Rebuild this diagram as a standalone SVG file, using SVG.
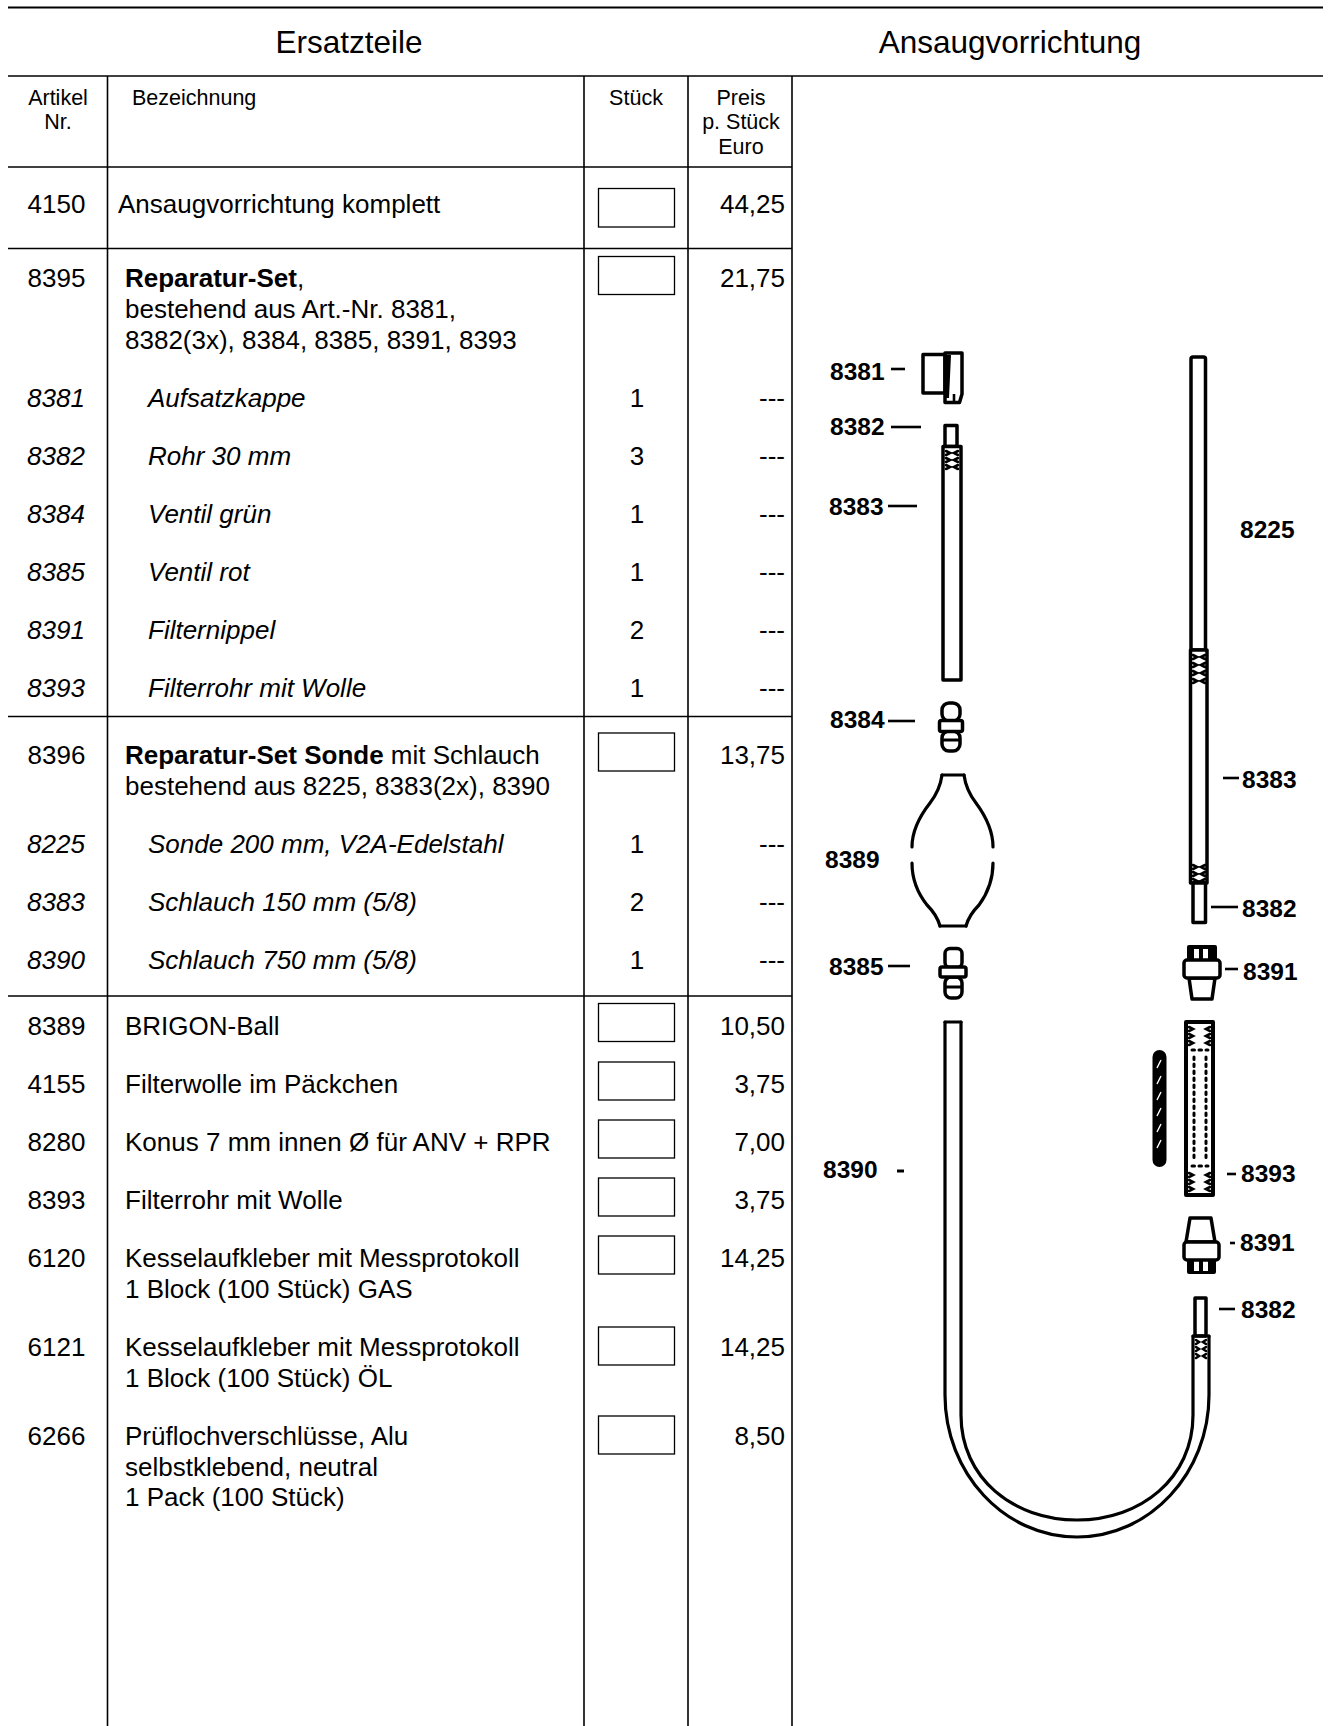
<svg xmlns="http://www.w3.org/2000/svg" width="1330" height="1726" viewBox="0 0 1330 1726">
<style>
.t{font-family:"Liberation Sans",Arial,sans-serif;font-size:26px;fill:#000}
.h{font-family:"Liberation Sans",Arial,sans-serif;font-size:21.5px;fill:#000}
.ti{font-family:"Liberation Sans",Arial,sans-serif;font-size:31.5px;fill:#000}
.i{font-style:italic}
.b{font-weight:bold}
.m{text-anchor:middle}
.e{text-anchor:end}
.ln{stroke:#000;stroke-width:1.6;fill:none}
.cb{fill:#fff;stroke:#000;stroke-width:1.3}
.p{fill:#fff;stroke:#000;stroke-width:3.5;stroke-linejoin:round}
.s{fill:none;stroke:#000;stroke-width:3.2;stroke-linecap:round}
.k{fill:#000}
.lb{font-family:"Liberation Sans",Arial,sans-serif;font-size:24.5px;font-weight:bold;fill:#000}
.ld{stroke:#000;stroke-width:2.6}
.dot{fill:none;stroke:#000;stroke-width:3;stroke-dasharray:2.5 4.5;stroke-linecap:round}
</style>
<rect width="1330" height="1726" fill="#fff"/>

<g id="table-lines">
<line class="ln" x1="8" y1="7.5" x2="1323" y2="7.5" style="stroke-width:2"/>
<line class="ln" x1="8" y1="76" x2="1323" y2="76"/>
<line class="ln" x1="107.5" y1="76" x2="107.5" y2="1726"/>
<line class="ln" x1="584" y1="76" x2="584" y2="1726"/>
<line class="ln" x1="688" y1="76" x2="688" y2="1726"/>
<line class="ln" x1="792" y1="76" x2="792" y2="1726"/>
<line class="ln" x1="8" y1="167" x2="792" y2="167"/>
<line class="ln" x1="8" y1="248.5" x2="792" y2="248.5"/>
<line class="ln" x1="8" y1="716.5" x2="792" y2="716.5"/>
<line class="ln" x1="8" y1="996" x2="792" y2="996"/>
</g>

<g id="titles">
<text class="ti m" x="349" y="53">Ersatzteile</text>
<text class="ti m" x="1010" y="53">Ansaugvorrichtung</text>
</g>

<g id="header">
<text class="h m" x="58" y="104.5">Artikel</text>
<text class="h m" x="58" y="129">Nr.</text>
<text class="h" x="132" y="104.5">Bezeichnung</text>
<text class="h m" x="636" y="104.5">Stück</text>
<text class="h m" x="741" y="104.5">Preis</text>
<text class="h m" x="741" y="129">p. Stück</text>
<text class="h m" x="741" y="153.5">Euro</text>
</g>

<g id="row-4150">
<text class="t" x="27.5" y="213">4150</text>
<text class="t" x="118" y="213">Ansaugvorrichtung komplett</text>
<rect class="cb" x="598.5" y="188.5" width="76" height="38.5"/>
<text class="t e" x="785" y="213">44,25</text>
</g>

<g id="row-8395">
<text class="t" x="27.5" y="287">8395</text>
<text class="t" x="125" y="287"><tspan class="b">Reparatur-Set</tspan>,</text>
<text class="t" x="125" y="318">bestehend aus Art.-Nr. 8381,</text>
<text class="t" x="125" y="349">8382(3x), 8384, 8385, 8391, 8393</text>
<rect class="cb" x="598.5" y="256.5" width="76" height="38"/>
<text class="t e" x="785" y="287">21,75</text>
</g>

<g id="sub-8395">
<text class="t i" x="27" y="407">8381</text><text class="t i" x="148" y="407">Aufsatzkappe</text><text class="t m" x="637" y="407">1</text><text class="t e" x="785" y="407">---</text>
<text class="t i" x="27" y="465">8382</text><text class="t i" x="148" y="465">Rohr 30 mm</text><text class="t m" x="637" y="465">3</text><text class="t e" x="785" y="465">---</text>
<text class="t i" x="27" y="523">8384</text><text class="t i" x="148" y="523">Ventil grün</text><text class="t m" x="637" y="523">1</text><text class="t e" x="785" y="523">---</text>
<text class="t i" x="27" y="581">8385</text><text class="t i" x="148" y="581">Ventil rot</text><text class="t m" x="637" y="581">1</text><text class="t e" x="785" y="581">---</text>
<text class="t i" x="27" y="639">8391</text><text class="t i" x="148" y="639">Filternippel</text><text class="t m" x="637" y="639">2</text><text class="t e" x="785" y="639">---</text>
<text class="t i" x="27" y="697">8393</text><text class="t i" x="148" y="697">Filterrohr mit Wolle</text><text class="t m" x="637" y="697">1</text><text class="t e" x="785" y="697">---</text>
</g>

<g id="row-8396">
<text class="t" x="27.5" y="764">8396</text>
<text class="t" x="125" y="764"><tspan class="b">Reparatur-Set Sonde</tspan> mit Schlauch</text>
<text class="t" x="125" y="795">bestehend aus 8225, 8383(2x), 8390</text>
<rect class="cb" x="598.5" y="733" width="76" height="38"/>
<text class="t e" x="785" y="764">13,75</text>
</g>

<g id="sub-8396">
<text class="t i" x="27" y="853">8225</text><text class="t i" x="148" y="853">Sonde 200 mm, V2A-Edelstahl</text><text class="t m" x="637" y="853">1</text><text class="t e" x="785" y="853">---</text>
<text class="t i" x="27" y="911">8383</text><text class="t i" x="148" y="911">Schlauch 150 mm (5/8)</text><text class="t m" x="637" y="911">2</text><text class="t e" x="785" y="911">---</text>
<text class="t i" x="27" y="969">8390</text><text class="t i" x="148" y="969">Schlauch 750 mm (5/8)</text><text class="t m" x="637" y="969">1</text><text class="t e" x="785" y="969">---</text>
</g>

<g id="rows-other">
<text class="t" x="27.5" y="1035">8389</text><text class="t" x="125" y="1035">BRIGON-Ball</text><rect class="cb" x="598.5" y="1003.5" width="76" height="38"/><text class="t e" x="785" y="1035">10,50</text>
<text class="t" x="27.5" y="1093">4155</text><text class="t" x="125" y="1093">Filterwolle im Päckchen</text><rect class="cb" x="598.5" y="1062" width="76" height="38"/><text class="t e" x="785" y="1093">3,75</text>
<text class="t" x="27.5" y="1151">8280</text><text class="t" x="125" y="1151">Konus 7 mm innen Ø für ANV + RPR</text><rect class="cb" x="598.5" y="1120" width="76" height="38"/><text class="t e" x="785" y="1151">7,00</text>
<text class="t" x="27.5" y="1209">8393</text><text class="t" x="125" y="1209">Filterrohr mit Wolle</text><rect class="cb" x="598.5" y="1178" width="76" height="38"/><text class="t e" x="785" y="1209">3,75</text>
<text class="t" x="27.5" y="1267">6120</text><text class="t" x="125" y="1267">Kesselaufkleber mit Messprotokoll</text><text class="t" x="125" y="1298">1 Block (100 Stück) GAS</text><rect class="cb" x="598.5" y="1236" width="76" height="38"/><text class="t e" x="785" y="1267">14,25</text>
<text class="t" x="27.5" y="1356">6121</text><text class="t" x="125" y="1356">Kesselaufkleber mit Messprotokoll</text><text class="t" x="125" y="1387">1 Block (100 Stück) ÖL</text><rect class="cb" x="598.5" y="1327" width="76" height="38"/><text class="t e" x="785" y="1356">14,25</text>
<text class="t" x="27.5" y="1445">6266</text><text class="t" x="125" y="1445">Prüflochverschlüsse, Alu</text><text class="t" x="125" y="1476">selbstklebend, neutral</text><text class="t" x="125" y="1506">1 Pack (100 Stück)</text><rect class="cb" x="598.5" y="1416" width="76" height="38"/><text class="t e" x="785" y="1445">8,50</text>
</g>

<g id="p8381">
<rect class="p" x="923" y="354.5" width="22" height="38.5"/>
<path class="p" d="M945,353 L962,353 L962,394 L959.5,402.5 L945,402.5 Z"/>
<path class="k" d="M945,355 L951,355 L949,398 L945,398 Z"/>
<line class="ld" x1="954" y1="394" x2="954" y2="402"/>
</g>

<g id="p8382a">
<rect class="p" x="945" y="425.5" width="12" height="21"/>
</g>
<g id="p8383a">
<rect class="p" x="943" y="446.5" width="18" height="233.5"/>
<path class="s" d="M946,451 l4,2 l-4,2 M958,451 l-4,2 l4,2 M946,458 l4,2 l-4,2 M958,458 l-4,2 l4,2 M946,465 l4,2 l-4,2 M958,465 l-4,2 l4,2" style="stroke-width:2.6"/>
</g>

<g id="p8384">
<rect class="p" x="942" y="703" width="18" height="18" rx="7"/>
<rect class="p" x="942" y="731" width="18" height="20" rx="7"/>
<rect class="p" x="939.5" y="720.5" width="23" height="11" rx="2"/>
<line class="ld" x1="943" y1="740" x2="959" y2="740" style="stroke-width:3"/>
</g>

<g id="p8389">
<path class="s" d="M942,775 L964,775"/>
<path class="s" d="M942,775 Q940,790 930,803 Q912,826 912,847"/>
<path class="s" d="M912,863 Q912,886 927,905 Q937,915 940,926"/>
<path class="s" d="M964,775 Q966,790 976,803 Q993,826 993,847"/>
<path class="s" d="M993,863 Q993,886 979,905 Q969,915 966,926"/>
<path class="s" d="M940,926 L966,926"/>
</g>

<g id="p8385">
<rect class="p" x="945" y="948.5" width="17" height="19" rx="5"/>
<rect class="p" x="945" y="977" width="17" height="21" rx="6"/>
<rect class="p" x="940" y="967" width="26" height="10" rx="2"/>
<line class="ld" x1="946" y1="987" x2="961" y2="987" style="stroke-width:3"/>
</g>

<g id="p8390">
<path class="s" d="M945,1022 L945,1395 C945,1473 1004,1537 1077,1537 C1150,1537 1209,1473 1209,1395 L1209,1336"/>
<path class="s" d="M961,1022 L961,1415 C961,1478 1013,1520 1077,1520 C1141,1520 1193,1478 1193,1415 L1193,1336"/>
<path class="s" d="M945,1022 L961,1022"/>
</g>

<g id="p8225">
<rect class="p" x="1191" y="357" width="14.5" height="293" rx="2"/>
</g>
<g id="p8383b">
<rect class="p" x="1190.5" y="650" width="16.5" height="233"/>
<path class="s" d="M1193,655 l4,2 l-4,2 M1205,655 l-4,2 l4,2 M1193,663 l4,2 l-4,2 M1205,663 l-4,2 l4,2 M1193,671 l4,2 l-4,2 M1205,671 l-4,2 l4,2 M1193,679 l4,2 l-4,2 M1205,679 l-4,2 l4,2" style="stroke-width:2.6"/>
<path class="s" d="M1193,865 l4,2 l-4,2 M1205,865 l-4,2 l4,2 M1193,872 l4,2 l-4,2 M1205,872 l-4,2 l4,2 M1193,879 l4,2 l-4,2 M1205,879 l-4,2 l4,2" style="stroke-width:2.6"/>
</g>
<g id="p8382b">
<rect class="p" x="1193" y="883" width="12.5" height="39.5"/>
</g>

<g id="p8391a">
<rect class="k" x="1187" y="945" width="30" height="17" rx="2"/>
<rect x="1194" y="949" width="5" height="10" fill="#fff"/>
<rect x="1203" y="949" width="5" height="10" fill="#fff"/>
<path class="p" d="M1189,978 L1215,978 L1212,999 L1192,999 Z"/>
<rect class="p" x="1184" y="960" width="36" height="18" rx="3"/>
</g>

<g id="p8393">
<rect class="p" x="1186" y="1022" width="27" height="173" style="stroke-width:4"/>
<path class="s" d="M1189,1027 l4,2 l-4,2 M1210,1027 l-4,2 l4,2 M1189,1034 l4,2 l-4,2 M1210,1034 l-4,2 l4,2 M1189,1041 l4,2 l-4,2 M1210,1041 l-4,2 l4,2" style="stroke-width:2.6"/>
<path class="dot" d="M1192,1050 L1208,1050"/>
<path class="dot" d="M1194,1057 L1194,1160"/>
<path class="dot" d="M1206,1057 L1206,1160"/>
<path class="dot" d="M1192,1166 L1208,1166"/>
<path class="s" d="M1189,1173 l4,2 l-4,2 M1210,1173 l-4,2 l4,2 M1189,1180 l4,2 l-4,2 M1210,1180 l-4,2 l4,2 M1189,1187 l4,2 l-4,2 M1210,1187 l-4,2 l4,2" style="stroke-width:2.6"/>
</g>

<g id="p4155">
<rect class="k" x="1152.5" y="1050" width="14" height="117" rx="7"/>
<path d="M1157,1068 l4,-8 M1157,1084 l4,-8 M1157,1100 l4,-8 M1157,1116 l4,-8 M1157,1132 l4,-8 M1157,1148 l4,-8" stroke="#fff" stroke-width="1.4" fill="none"/>
</g>

<g id="p8391b">
<path class="p" d="M1190,1218 L1211,1218 L1215,1242 L1186,1242 Z"/>
<rect class="k" x="1187" y="1258" width="29" height="16" rx="2"/>
<rect x="1194" y="1261" width="5" height="10" fill="#fff"/>
<rect x="1203" y="1261" width="5" height="10" fill="#fff"/>
<rect class="p" x="1184" y="1242" width="35" height="18" rx="3"/>
</g>

<g id="p8382c">
<rect class="p" x="1195" y="1298" width="11" height="38"/>
<path class="s" d="M1193,1336 L1209,1336"/>
<path class="s" d="M1196,1340 l3,2 l-3,2 M1206,1340 l-3,2 l3,2 M1196,1347 l3,2 l-3,2 M1206,1347 l-3,2 l3,2 M1196,1354 l3,2 l-3,2 M1206,1354 l-3,2 l3,2" style="stroke-width:2.6"/>
</g>

<g id="connectors">
<line class="ld" x1="891" y1="369" x2="905" y2="369"/>
<line class="ld" x1="891" y1="427" x2="921" y2="427"/>
<line class="ld" x1="888" y1="506" x2="917" y2="506"/>
<line class="ld" x1="888" y1="721" x2="915" y2="721"/>
<line class="ld" x1="888" y1="966" x2="910" y2="966"/>
<line class="ld" x1="897" y1="1171" x2="904" y2="1171" style="stroke-width:3"/>
<line class="ld" x1="1223" y1="778" x2="1239" y2="778"/>
<line class="ld" x1="1211" y1="907" x2="1238" y2="907"/>
<line class="ld" x1="1225" y1="969" x2="1238" y2="969"/>
<line class="ld" x1="1227" y1="1174" x2="1236" y2="1174"/>
<line class="ld" x1="1230" y1="1243" x2="1235" y2="1243"/>
<line class="ld" x1="1219" y1="1309" x2="1235" y2="1309"/>
</g>

<g id="labels">
<text class="lb" x="830" y="380">8381</text>
<text class="lb" x="830" y="435">8382</text>
<text class="lb" x="829" y="515">8383</text>
<text class="lb" x="830" y="728">8384</text>
<text class="lb" x="825" y="868">8389</text>
<text class="lb" x="829" y="975">8385</text>
<text class="lb" x="823" y="1178">8390</text>
<text class="lb" x="1240" y="538">8225</text>
<text class="lb" x="1242" y="788">8383</text>
<text class="lb" x="1242" y="917">8382</text>
<text class="lb" x="1243" y="980">8391</text>
<text class="lb" x="1241" y="1182">8393</text>
<text class="lb" x="1240" y="1251">8391</text>
<text class="lb" x="1241" y="1318">8382</text>
</g>
</svg>
